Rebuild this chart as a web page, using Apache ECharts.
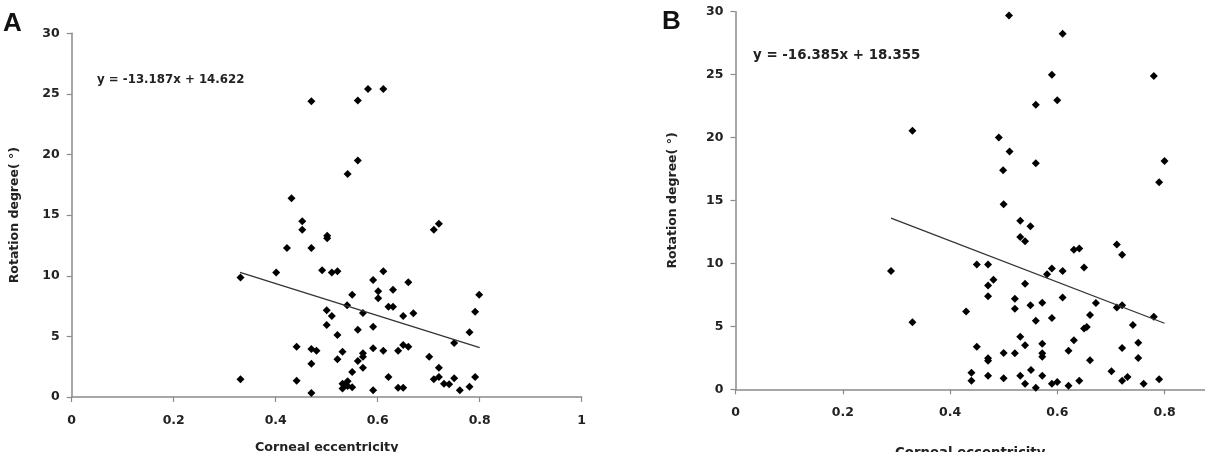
<!DOCTYPE html>
<html>
<head>
<meta charset="utf-8">
<script src="https://cdn.jsdelivr.net/npm/echarts@6/dist/echarts.min.js"></script>
<style>
html,body{margin:0;padding:0;background:#fff;}
#chart{width:1205px;height:452px;}
</style>
</head>
<body>
<div id="chart"></div>
<script>
// Panel A: corneal eccentricity vs rotation degree
const panelA_x = [0.470,0.561,0.581,0.611,0.561,0.541,0.431,0.452,0.452,0.501,0.501,0.422,0.470,0.710,0.720,
  0.331,0.401,0.491,0.510,0.521,0.611,0.591,0.660,0.630,0.601,0.601,0.550,0.799,0.540,0.621,0.630,0.500,0.510,
  0.571,0.650,0.670,0.791,0.500,0.561,0.591,0.521,0.780,0.750,0.441,0.470,0.480,0.531,0.591,0.611,0.640,0.650,
  0.660,0.521,0.571,0.571,0.561,0.470,0.701,0.571,0.720,0.550,0.331,0.441,0.621,0.710,0.720,0.730,0.740,0.750,
  0.791,0.780,0.761,0.531,0.541,0.531,0.541,0.550,0.536,0.591,0.640,0.650,0.470];
const panelA_y = [24.4,24.45,25.4,25.4,19.5,18.4,16.4,14.5,13.8,13.3,13.1,12.3,12.3,13.8,14.3,
  9.85,10.26,10.45,10.26,10.37,10.37,9.65,9.46,8.85,8.72,8.14,8.44,8.44,7.56,7.45,7.45,7.15,6.68,
  6.93,6.68,6.9,7.04,5.94,5.55,5.8,5.12,5.34,4.46,4.15,3.96,3.82,3.74,4.02,3.82,3.82,4.29,
  4.15,3.11,3.6,3.33,2.97,2.75,3.33,2.42,2.42,2.06,1.46,1.35,1.65,1.46,1.65,1.1,1.05,1.54,
  1.65,0.85,0.55,1.1,1.3,0.7,0.9,0.8,1.0,0.55,0.77,0.77,0.33];
const trendA = {slope: -13.187, intercept: 14.622, xFrom: 0.33, xTo: 0.80};
const eqA = 'y = -13.187x + 14.622';

// Panel B
const panelB_x = [0.510,0.610,0.590,0.780,0.560,0.600,0.330,0.491,0.511,0.560,0.499,0.800,0.790,
  0.500,0.531,0.550,0.531,0.540,0.631,0.641,0.711,0.721,0.290,0.450,0.471,0.590,0.581,0.610,0.650,0.481,0.471,0.540,
  0.471,0.430,0.330,0.521,0.521,0.550,0.572,0.610,0.672,0.711,0.721,0.780,0.560,0.590,0.661,0.650,0.655,0.741,
  0.531,0.540,0.572,0.631,0.621,0.450,0.500,0.521,0.572,0.572,0.471,0.471,0.661,0.721,0.751,0.751,
  0.440,0.440,0.471,0.500,0.531,0.551,0.540,0.560,0.572,0.590,0.600,0.621,0.641,0.701,0.721,0.731,0.761,0.790];
const panelB_y = [29.7,28.25,25.0,24.9,22.6,22.96,20.55,20.0,18.9,17.96,17.4,18.14,16.45,
  14.7,13.4,12.96,12.1,11.77,11.08,11.19,11.5,10.68,9.39,9.92,9.92,9.6,9.15,9.39,9.68,8.7,8.25,8.38,
  7.4,6.19,5.32,7.19,6.4,6.67,6.87,7.3,6.85,6.5,6.67,5.76,5.44,5.66,5.9,4.84,4.95,5.1,
  4.17,3.49,3.62,3.89,3.06,3.38,2.88,2.86,2.86,2.59,2.46,2.27,2.3,3.28,3.7,2.48,
  1.32,0.68,1.08,0.87,1.08,1.53,0.44,0.13,1.08,0.44,0.58,0.29,0.68,1.43,0.68,0.98,0.44,0.79];
const trendB = {slope: -16.385, intercept: 18.355, xFrom: 0.29, xTo: 0.80};
const eqB = 'y = -16.385x + 18.355';

const yTicks = [0,5,10,15,20,25,30];
const xTicksA = [0,0.2,0.4,0.6,0.8,1];
const xTicksB = [0,0.2,0.4,0.6,0.8];
const xName = 'Corneal eccentricity';
const yName = 'Rotation degree( °)';

const pts = (xs, ys) => xs.map((x, i) => [x, ys[i]]);
const line = t => [[t.xFrom, t.slope * t.xFrom + t.intercept], [t.xTo, t.slope * t.xTo + t.intercept]];

const font = '"DejaVu Sans", sans-serif';
const axisCol = '#8a8a8a';
const lab = {color: '#222', fontFamily: font, fontWeight: 'bold', fontSize: 12.5};

function xAxis(idx, max, ticks, gap, nameSize) {
  return {
    type: 'value', gridIndex: idx, min: 0, max: max, interval: 0.2,
    name: xName, nameLocation: 'middle', nameGap: gap,
    nameTextStyle: {color: '#222', fontFamily: font, fontWeight: 'bold', fontSize: nameSize},
    axisLine: {show: true, onZero: false, lineStyle: {color: axisCol, width: 1.5}},
    axisTick: {show: true, length: 5, customValues: ticks, lineStyle: {color: axisCol, width: 1.2}},
    axisLabel: Object.assign({margin: 17, customValues: ticks, formatter: v => String(+v.toFixed(1))}, lab),
    splitLine: {show: false}
  };
}
function yAxis(idx, gap) {
  return {
    type: 'value', gridIndex: idx, min: 0, max: 30, interval: 5,
    name: yName, nameLocation: 'middle', nameGap: gap, nameRotate: 90,
    nameTextStyle: {color: '#222', fontFamily: font, fontWeight: 'bold', fontSize: 12.5},
    axisLine: {show: true, lineStyle: {color: axisCol, width: 1.5}},
    axisTick: {show: true, length: 5, lineStyle: {color: axisCol, width: 1.2}},
    axisLabel: Object.assign({margin: 12, customValues: yTicks}, lab),
    splitLine: {show: false}
  };
}

const chart = echarts.init(document.getElementById('chart'), null, {renderer: 'canvas'});
chart.setOption({
  animation: false,
  backgroundColor: '#fff',
  grid: [
    {left: 71.7, top: 33.3, width: 510, height: 363.7, containLabel: false, outerBoundsMode: 'none'},
    {left: 735.5, top: 11.7, width: 469.5, height: 377.6, containLabel: false, outerBoundsMode: 'none'}
  ],
  xAxis: [xAxis(0, 1, xTicksA, 44, 12.7), xAxis(1, 0.8755, xTicksB, 58, 13.3)],
  yAxis: [yAxis(0, 50), yAxis(1, 56)],
  series: [
    {type: 'scatter', xAxisIndex: 0, yAxisIndex: 0, data: pts(panelA_x, panelA_y),
     symbol: 'diamond', symbolSize: 8, itemStyle: {color: '#000', opacity: 1}},
    {type: 'line', xAxisIndex: 0, yAxisIndex: 0, data: line(trendA), symbol: 'none',
     lineStyle: {color: '#333', width: 1.3}},
    {type: 'scatter', xAxisIndex: 1, yAxisIndex: 1, data: pts(panelB_x, panelB_y),
     symbol: 'diamond', symbolSize: 8, itemStyle: {color: '#000', opacity: 1}},
    {type: 'line', xAxisIndex: 1, yAxisIndex: 1, data: line(trendB), symbol: 'none',
     lineStyle: {color: '#333', width: 1.3}}
  ],
  graphic: [
    {type: 'text', left: 3, top: 11, style: {text: 'A', font: 'bold 26px "Liberation Sans", Arial, sans-serif', fill: '#111'}},
    {type: 'text', left: 662, top: 9, style: {text: 'B', font: 'bold 26px "Liberation Sans", Arial, sans-serif', fill: '#111'}},
    {type: 'text', left: 97, top: 74, style: {text: eqA, font: 'bold 11.8px ' + font, fill: '#222'}},
    {type: 'text', left: 753, top: 49, style: {text: eqB, font: 'bold 13.4px ' + font, fill: '#222'}}
  ]
});
</script>
</body>
</html>
